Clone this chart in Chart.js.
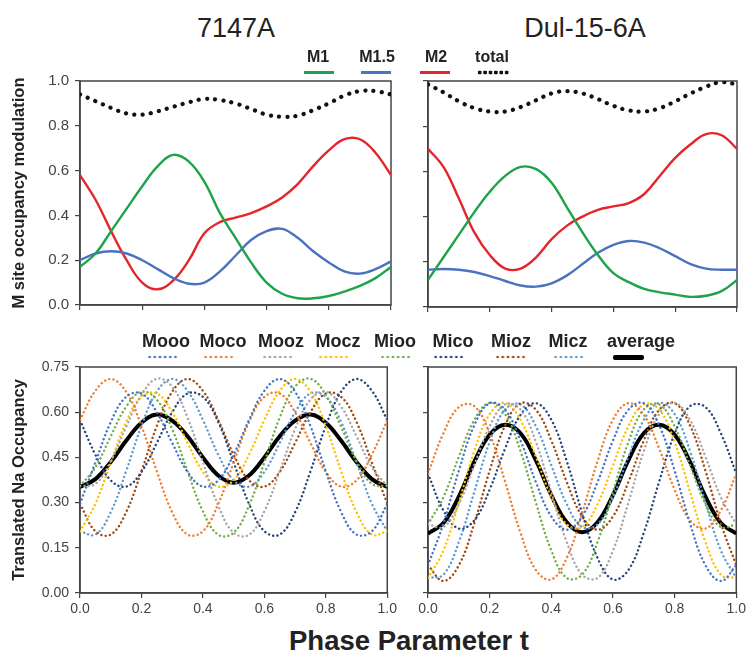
<!DOCTYPE html>
<html>
<head>
<meta charset="utf-8">
<script src="https://cdn.jsdelivr.net/npm/chart.js@4.4.0/dist/chart.umd.min.js"></script>
<style>
  body { margin: 0; background: #fff; font-family: "Liberation Sans", Arial, sans-serif; }
  #wrap { position: relative; width: 749px; height: 660px; overflow: hidden; }
  #wrap canvas { position: absolute; }
  .lbl { position: absolute; color: #222; white-space: nowrap; transform: translate(-50%, -50%); line-height: 1; }
  .title { font-size: 27px; }
  .key { font-size: 16px; font-weight: bold; }
  .key.big { font-size: 18px; }
  .xtitle { font-size: 27.5px; font-weight: bold; }
  .line { position: absolute; height: 3px; }
  .dots { position: absolute; height: 4px; background-repeat: repeat-x; background-size: 5.2px 4px; }
</style>
</head>
<body>
<div id="wrap">
  <canvas id="topA" width="400" height="260" style="left:0;top:60px"></canvas>
  <canvas id="topB" width="349" height="260" style="left:400px;top:60px"></canvas>
  <canvas id="botA" width="400" height="280" style="left:0;top:340px"></canvas>
  <canvas id="botB" width="349" height="280" style="left:400px;top:340px"></canvas>
  <div class="lbl title" style="left:236px;top:28px">7147A</div>
  <div class="lbl title" style="left:585px;top:28px">Dul-15-6A</div>
  <div id="keyTop"></div>
  <div id="keyBot"></div>
  <div class="lbl xtitle" style="left:409px;top:641px">Phase Parameter t</div>
</div>
<script>
// phase parameter t, shared by every panel
const phaseT = [0, 0.05, 0.1, 0.15, 0.2, 0.25, 0.3, 0.35, 0.4, 0.45, 0.5,
                0.55, 0.6, 0.65, 0.7, 0.75, 0.8, 0.85, 0.9, 0.95, 1];

// M site occupancy, 7147A
const m1A    = [0.17, 0.23, 0.33, 0.43, 0.53, 0.62, 0.67, 0.64, 0.55, 0.41, 0.30, 0.19, 0.10, 0.05, 0.03, 0.03, 0.04, 0.06, 0.085, 0.12, 0.17];
const m15A   = [0.20, 0.23, 0.24, 0.23, 0.20, 0.16, 0.12, 0.095, 0.10, 0.15, 0.22, 0.29, 0.33, 0.34, 0.30, 0.24, 0.19, 0.15, 0.14, 0.16, 0.195];
const m2A    = [0.58, 0.47, 0.33, 0.20, 0.10, 0.07, 0.11, 0.20, 0.32, 0.37, 0.39, 0.41, 0.44, 0.48, 0.54, 0.62, 0.69, 0.74, 0.74, 0.68, 0.58];
const totalA = [0.94, 0.91, 0.88, 0.855, 0.85, 0.865, 0.885, 0.905, 0.92, 0.915, 0.90, 0.875, 0.85, 0.84, 0.845, 0.87, 0.90, 0.935, 0.955, 0.955, 0.94];

// M site occupancy, Dul-15-6A
const m1B    = [0.12, 0.22, 0.32, 0.42, 0.51, 0.58, 0.62, 0.61, 0.55, 0.44, 0.33, 0.23, 0.15, 0.11, 0.08, 0.065, 0.055, 0.045, 0.05, 0.07, 0.12];
const m15B   = [0.165, 0.168, 0.165, 0.155, 0.137, 0.115, 0.095, 0.09, 0.105, 0.14, 0.19, 0.24, 0.275, 0.292, 0.285, 0.26, 0.225, 0.19, 0.17, 0.165, 0.165];
const m2B    = [0.70, 0.62, 0.48, 0.33, 0.23, 0.17, 0.17, 0.22, 0.30, 0.36, 0.40, 0.43, 0.445, 0.46, 0.50, 0.58, 0.66, 0.72, 0.765, 0.76, 0.70];
const totalB = [0.985, 0.95, 0.91, 0.88, 0.865, 0.865, 0.885, 0.915, 0.945, 0.955, 0.945, 0.92, 0.89, 0.87, 0.865, 0.88, 0.91, 0.945, 0.975, 0.995, 0.985];

// translated Na occupancy, 7147A
const moooA = [0.296, 0.433, 0.567, 0.651, 0.662, 0.600, 0.498, 0.402, 0.353, 0.374, 0.459, 0.574, 0.671, 0.710, 0.668, 0.554, 0.404, 0.268, 0.194, 0.205, 0.296];
const mocoA = [0.574, 0.671, 0.710, 0.668, 0.554, 0.404, 0.268, 0.194, 0.205, 0.296, 0.433, 0.567, 0.651, 0.662, 0.600, 0.498, 0.402, 0.353, 0.374, 0.459, 0.574];
const moozA = [0.355, 0.362, 0.437, 0.551, 0.657, 0.711, 0.685, 0.582, 0.434, 0.290, 0.200, 0.193, 0.271, 0.404, 0.544, 0.642, 0.668, 0.618, 0.520, 0.417, 0.355];
const moczA = [0.205, 0.296, 0.433, 0.567, 0.651, 0.662, 0.600, 0.498, 0.402, 0.353, 0.374, 0.459, 0.574, 0.671, 0.710, 0.668, 0.554, 0.404, 0.268, 0.194, 0.205];
const miooA = [0.355, 0.417, 0.520, 0.618, 0.668, 0.642, 0.544, 0.404, 0.271, 0.193, 0.200, 0.290, 0.434, 0.582, 0.685, 0.711, 0.657, 0.551, 0.437, 0.362, 0.355];
const micoA = [0.574, 0.459, 0.374, 0.353, 0.402, 0.498, 0.600, 0.662, 0.651, 0.567, 0.433, 0.296, 0.205, 0.194, 0.268, 0.404, 0.554, 0.668, 0.710, 0.671, 0.574];
const miozA = [0.296, 0.205, 0.194, 0.268, 0.404, 0.554, 0.668, 0.710, 0.671, 0.574, 0.459, 0.374, 0.353, 0.402, 0.498, 0.600, 0.662, 0.651, 0.567, 0.433, 0.296];
const miczA = [0.205, 0.194, 0.268, 0.404, 0.554, 0.668, 0.710, 0.671, 0.574, 0.459, 0.374, 0.353, 0.402, 0.498, 0.600, 0.662, 0.651, 0.567, 0.433, 0.296, 0.205];
const avgA  = [0.352, 0.378, 0.435, 0.505, 0.565, 0.592, 0.572, 0.52, 0.45, 0.39, 0.366, 0.39, 0.45, 0.52, 0.572, 0.592, 0.565, 0.505, 0.435, 0.378, 0.352];

// translated Na occupancy, Dul-15-6A
const moooB = [0.092, 0.231, 0.406, 0.556, 0.630, 0.608, 0.506, 0.368, 0.254, 0.210, 0.254, 0.368, 0.506, 0.608, 0.630, 0.556, 0.406, 0.231, 0.092, 0.040, 0.092];
const mocoB = [0.396, 0.530, 0.617, 0.620, 0.528, 0.370, 0.200, 0.076, 0.045, 0.116, 0.265, 0.438, 0.575, 0.630, 0.591, 0.479, 0.343, 0.241, 0.214, 0.274, 0.396];
const moozB = [0.228, 0.219, 0.295, 0.424, 0.553, 0.626, 0.609, 0.501, 0.335, 0.169, 0.061, 0.050, 0.141, 0.300, 0.471, 0.594, 0.631, 0.574, 0.452, 0.318, 0.228];
const moczB = [0.050, 0.141, 0.300, 0.471, 0.594, 0.631, 0.574, 0.452, 0.318, 0.228, 0.219, 0.295, 0.424, 0.553, 0.626, 0.609, 0.501, 0.335, 0.169, 0.061, 0.050];
const miooB = [0.228, 0.318, 0.452, 0.574, 0.631, 0.594, 0.471, 0.300, 0.141, 0.050, 0.061, 0.169, 0.335, 0.501, 0.609, 0.626, 0.553, 0.424, 0.295, 0.219, 0.228];
const micoB = [0.396, 0.274, 0.214, 0.241, 0.343, 0.479, 0.591, 0.630, 0.575, 0.438, 0.265, 0.116, 0.045, 0.076, 0.200, 0.370, 0.528, 0.620, 0.617, 0.530, 0.396];
const miozB = [0.092, 0.040, 0.092, 0.231, 0.406, 0.556, 0.630, 0.608, 0.506, 0.368, 0.254, 0.210, 0.254, 0.368, 0.506, 0.608, 0.630, 0.556, 0.406, 0.231, 0.092];
const miczB = [0.050, 0.061, 0.169, 0.335, 0.501, 0.609, 0.626, 0.553, 0.424, 0.295, 0.219, 0.228, 0.318, 0.452, 0.574, 0.631, 0.594, 0.471, 0.300, 0.141, 0.050];
const avgB  = [0.197, 0.232, 0.32, 0.435, 0.525, 0.558, 0.53, 0.44, 0.325, 0.235, 0.202, 0.235, 0.325, 0.44, 0.53, 0.558, 0.525, 0.435, 0.32, 0.232, 0.197];

const siteNames = ["M1", "M1.5", "M2", "total"];
const siteColors = ["#1ea34a", "#4a72c0", "#e3262b", "#111111"];
const naNames = ["Mooo", "Moco", "Mooz", "Mocz", "Mioo", "Mico", "Mioz", "Micz", "average"];
const naColors = ["#4472c4", "#ed7d31", "#a5a5a5", "#ffc000", "#70ad47", "#264478", "#9e480e", "#5b9bd5", "#000000"];

const INK = "#444";

const pts = arr => phaseT.map((t, i) => ({ x: t, y: arr[i] }));

// box around each plot area
const framePlugin = {
  id: "frame",
  beforeDatasetsDraw(chart) {
    const { ctx, chartArea: a } = chart;
    ctx.save();
    ctx.strokeStyle = INK;
    ctx.lineWidth = 1.5;
    ctx.strokeRect(a.left, a.top, a.right - a.left, a.bottom - a.top);
    ctx.restore();
  }
};

function makeScales(o) {
  const y = {
    type: "linear", min: o.ymin, max: o.ymax,
    afterFit: s => { s.width = o.yw; },
    ticks: { display: o.ylabels, stepSize: o.ystep, callback: v => v.toFixed(o.ydec),
             color: INK, font: { size: o.yfont }, padding: 6 },
    grid: { drawOnChartArea: false, tickLength: 5, color: INK, lineWidth: 1.2 },
    border: { color: INK, width: 1.5 }
  };
  if (o.ytitle) {
    y.title = { display: true, text: o.ytitle, color: "#222",
                font: { size: 16.5, weight: "bold" }, padding: { top: 10, bottom: 0 } };
  }
  return {
    x: {
      type: "linear", min: 0, max: 1,
      afterFit: s => { s.height = o.xh; },
      ticks: { display: o.xlabels, stepSize: 0.2, callback: v => v.toFixed(1),
               color: INK, font: { size: 14 }, padding: 3, maxRotation: 0 },
      grid: { drawOnChartArea: false, tickLength: 5, color: INK, lineWidth: 1.2 },
      border: { color: INK, width: 1.5 }
    },
    y
  };
}

function makeChart(id, datasets, o) {
  return new Chart(document.getElementById(id), {
    type: "line",
    data: { datasets },
    options: {
      responsive: false, animation: false, devicePixelRatio: 1,
      layout: { padding: o.pad },
      elements: { point: { radius: 0 }, line: { tension: 0.4, fill: false } },
      plugins: { legend: { display: false }, tooltip: { enabled: false } },
      scales: makeScales(o)
    },
    plugins: [framePlugin]
  });
}

function siteSets(m1, m15, m2, total) {
  return [
    { data: pts(m1), borderColor: siteColors[0], borderWidth: 2.4 },
    { data: pts(m15), borderColor: siteColors[1], borderWidth: 2.4 },
    { data: pts(m2), borderColor: siteColors[2], borderWidth: 2.4 },
    { data: pts(total), borderColor: siteColors[3], borderWidth: 4.2,
      borderDash: [0.1, 8.2], borderCapStyle: "round" }
  ];
}

function naSets(series) {
  return series.map((arr, i) => i === 8
    ? { data: pts(arr), borderColor: naColors[i], borderWidth: 4 }
    : { data: pts(arr), borderColor: naColors[i], borderWidth: 2.4,
        borderDash: [0.1, 4.2], borderCapStyle: "round" });
}

const topOpts = { ymin: 0, ymax: 1, ystep: 0.2, ydec: 1, yfont: 15, xh: 13, xlabels: false };
const botOpts = { ymin: 0, ymax: 0.75, ystep: 0.15, ydec: 2, yfont: 14, xh: 27, xlabels: true };

makeChart("topA", siteSets(m1A, m15A, m2A, totalA),
  Object.assign({}, topOpts, { yw: 80, ylabels: true, ytitle: "M site occupancy modulation",
    pad: { top: 21, right: 9, left: 0, bottom: 0 } }));
makeChart("topB", siteSets(m1B, m15B, m2B, totalB),
  Object.assign({}, topOpts, { yw: 28, ylabels: false,
    pad: { top: 21, right: 12, left: 0, bottom: 0 } }));
makeChart("botA", naSets([moooA, mocoA, moozA, moczA, miooA, micoA, miozA, miczA, avgA]),
  Object.assign({}, botOpts, { yw: 80, ylabels: true, ytitle: "Translated Na Occupancy",
    pad: { top: 27, right: 9, left: 0, bottom: 0 } }));
makeChart("botB", naSets([moooB, mocoB, moozB, moczB, miooB, micoB, miozB, miczB, avgB]),
  Object.assign({}, botOpts, { yw: 28, ylabels: false,
    pad: { top: 27, right: 12, left: 0, bottom: 0 } }));

// legends: label text over a short line sample
function keyItem(host, name, color, cx, ty, lx, lw, ly, style, big) {
  const t = document.createElement("div");
  t.className = big ? "lbl key big" : "lbl key";
  t.style.left = cx + "px";
  t.style.top = ty + "px";
  t.textContent = name;
  host.appendChild(t);
  const s = document.createElement("div");
  s.style.left = lx + "px";
  s.style.width = lw + "px";
  if (style === "solid") {
    s.className = "line";
    s.style.top = (ly - 1.5) + "px";
    s.style.background = color;
  } else if (style === "thick") {
    s.className = "line";
    s.style.top = (ly - 2.5) + "px";
    s.style.height = "5px";
    s.style.borderRadius = "2px";
    s.style.background = color;
  } else {
    const heavy = style === "bigdots";
    s.className = "dots";
    s.style.top = (ly - (heavy ? 2.5 : 2)) + "px";
    s.style.height = (heavy ? 5 : 4) + "px";
    s.style.backgroundSize = heavy ? "5.4px 5px" : "5.2px 4px";
    s.style.backgroundImage = `radial-gradient(circle, ${color} ${heavy ? 1.7 : 1.1}px, transparent ${heavy ? 2.2 : 1.6}px)`;
  }
  host.appendChild(s);
}

const keyTop = document.getElementById("keyTop");
const topCx = [318, 377, 436, 492];
const topLx = [304, 361, 420, 477];
siteNames.forEach((n, i) => keyItem(keyTop, n, siteColors[i], topCx[i], 57, topLx[i], i === 3 ? 33 : 30, 72,
  i === 3 ? "bigdots" : "solid", false));

const keyBot = document.getElementById("keyBot");
const botCx = [166, 223, 281, 338, 395, 453, 511, 568, 641];
const botLx = [147, 203, 262, 318, 380, 433, 495, 553, 613];
naNames.forEach((n, i) => keyItem(keyBot, n, naColors[i], botCx[i], 341, botLx[i], i === 8 ? 31 : 32, 357,
  i === 8 ? "thick" : "dots", true));
</script>
</body>
</html>
